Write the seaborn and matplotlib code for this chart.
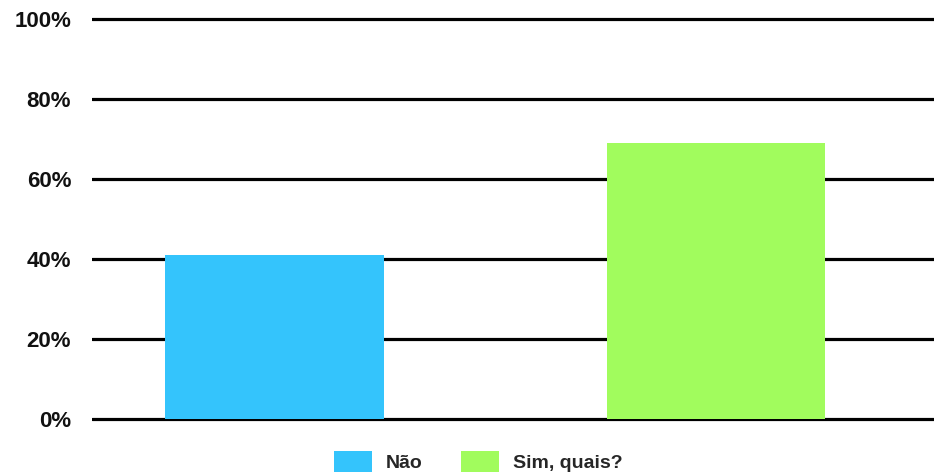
import matplotlib
matplotlib.use("Agg")
import matplotlib.pyplot as plt
from matplotlib.patches import Patch
import seaborn as sns
import pandas as pd

# Survey answers and their share of respondents (%)
categories = ["Não", "Sim, quais?"]
values = [41, 69]
colors = ["#34C4FC", "#A1FC5D"]
y_ticks = [0, 20, 40, 60, 80, 100]
y_tick_labels = ["0%", "20%", "40%", "60%", "80%", "100%"]

sns.set_theme(style="white")
plt.rcParams["font.family"] = ["Liberation Sans", "DejaVu Sans"]

df = pd.DataFrame({"resposta": categories, "percentual": values})

fig = plt.figure(figsize=(9.34, 4.74), dpi=100)
ax = fig.add_axes([92 / 934, 0.0992, 1 - 92 / 934, 0.8776])

sns.barplot(
    data=df, x="resposta", y="percentual", hue="resposta",
    palette=colors, width=0.495, dodge=False, legend=False,
    saturation=1, linewidth=0, ax=ax, zorder=3,
)

ax.set_xlim(-0.413, 1.494)
ax.set_ylim(-2, 102)
ax.set_yticks(y_ticks)
ax.set_yticklabels(y_tick_labels, fontsize=16, fontweight="bold", color="#111111")
ax.tick_params(axis="y", length=0, pad=15)
ax.set_xticks([])
ax.set_xlabel("")
ax.set_ylabel("")
for s in ax.spines.values():
    s.set_visible(False)

ax.set_axisbelow(True)
ax.yaxis.grid(True, color="black", linewidth=2.3)
ax.xaxis.grid(False)

handles = [Patch(facecolor=c, edgecolor="none", label=l) for c, l in zip(colors, categories)]
fig.legend(
    handles=handles, loc="upper left", bbox_to_anchor=(334 / 934, 0.049),
    ncol=2, frameon=False, handlelength=1.95, handleheight=1.3,
    handletextpad=0.7, columnspacing=2.0, borderpad=0, borderaxespad=0,
    prop={"size": 14, "weight": "bold"},
)

fig.savefig("out.png", dpi=100, facecolor="white")
